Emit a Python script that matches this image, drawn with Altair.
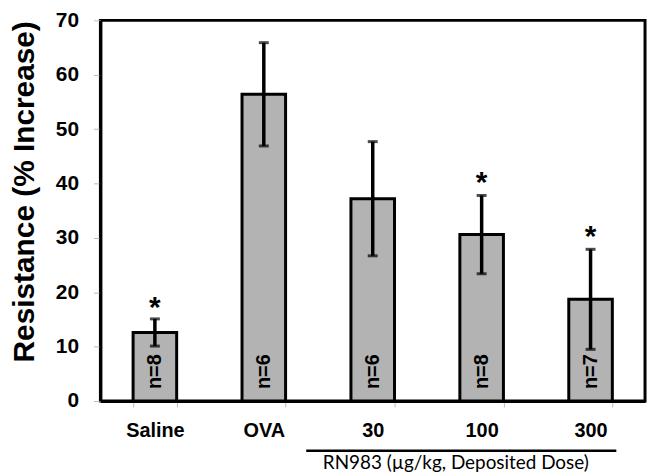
import altair as alt
import pandas as pd

groups = ["Saline", "OVA", "30", "100", "300"]
means = [12.6, 56.4, 37.2, 30.6, 18.7]
errs = [2.5, 9.5, 10.5, 7.2, 9.2]
n_labels = ["n=8", "n=6", "n=6", "n=8", "n=7"]
star_y = [18.1, None, None, 41.1, 31.2]
group_label = "RN983 (µg/kg, Deposited Dose)"
y_title = "Resistance (% Increase)"
y_ticks = [0, 10, 20, 30, 40, 50, 60, 70]

df = pd.DataFrame({
    "group": groups,
    "mean": means,
    "lo": [m - e for m, e in zip(means, errs)],
    "hi": [m + e for m, e in zip(means, errs)],
    "n": n_labels,
    "star": star_y,
})

W, H = 548, 383
xscale = alt.Scale(domain=groups, paddingInner=0.6, paddingOuter=0.3)
yscale = alt.Scale(domain=[0, 70], nice=False)

x = alt.X("group:N", scale=xscale, sort=groups, title=None,
          axis=alt.Axis(labelAngle=0, labelFont="Liberation Sans", labelFontWeight="bold",
                        labelFontSize=20, labelColor="black", labelPadding=14,
                        tickBand="extent", tickColor="#bbbbbb", tickSize=6, tickWidth=1,
                        domainColor="black", domainWidth=3, labelBaseline="top"))
y = alt.Y("mean:Q", scale=yscale, title=y_title,
          axis=alt.Axis(values=y_ticks, grid=False, labelFont="Liberation Sans",
                        labelFontWeight="bold", labelFontSize=21, labelColor="black",
                        labelPadding=15, tickColor="#bbbbbb", tickSize=7, tickWidth=1,
                        domainColor="black", domainWidth=3,
                        titleFont="Liberation Sans", titleFontWeight="bold", titleFontSize=30,
                        titleColor="black", titleX=-76, titleY=172, titleAngle=270,
                        titleAlign="center", titleBaseline="middle"))

base = alt.Chart(df)

bars = base.mark_bar(color="#b3b3b3", stroke="black", strokeWidth=3).encode(x=x, y=y)

rule = base.mark_rule(color="black", strokeWidth=3.5).encode(
    x=alt.X("group:N", scale=xscale, sort=groups),
    y=alt.Y("lo:Q", scale=yscale), y2="hi:Q")

cap_lo = base.mark_tick(color="black", size=10, thickness=3).encode(
    x=alt.X("group:N", scale=xscale, sort=groups), y=alt.Y("lo:Q", scale=yscale))
cap_hi = base.mark_tick(color="black", size=10, thickness=3).encode(
    x=alt.X("group:N", scale=xscale, sort=groups), y=alt.Y("hi:Q", scale=yscale))

nlab = base.mark_text(angle=270, align="left", baseline="middle", font="Liberation Sans",
                      fontWeight="bold", fontSize=20, color="black").encode(
    x=alt.X("group:N", scale=xscale, sort=groups),
    y=alt.YDatum(2.2),
    text="n:N")

stars = base.transform_filter("isValid(datum.star)").mark_text(
    font="Liberation Sans", fontWeight="bold", fontSize=30, baseline="middle",
    dy=6, color="black").encode(
    x=alt.X("group:N", scale=xscale, sort=groups),
    y=alt.Y("star:Q", scale=yscale),
    text=alt.value("*"))

grp_df = pd.DataFrame({"start": [groups[2]], "end": [groups[4]], "mid": [groups[3]], "label": [group_label]})
grp = alt.Chart(grp_df)
grp_rule = grp.mark_rule(color="black", strokeWidth=2.5, xOffset=-45, x2Offset=4).encode(
    x=alt.X("start:N", scale=xscale, sort=groups, bandPosition=0),
    x2=alt.X2("end:N", bandPosition=1),
    y=alt.value(H + 50))
grp_text = grp.mark_text(font="Lato", fontSize=19, color="black", baseline="middle", dx=-26).encode(
    x=alt.X("mid:N", scale=xscale, sort=groups),
    y=alt.value(H + 62),
    text="label:N")

chart = alt.layer(bars, rule, cap_lo, cap_hi, nlab, stars, grp_rule, grp_text).properties(
    width=W, height=H,
    autosize=alt.AutoSizeParams(type="none"),
    padding={"left": 93, "top": 11, "right": 4, "bottom": 72},
    background="white",
).configure_view(stroke="black", strokeWidth=3)

chart.save("out.html", embed_options={"renderer": "svg", "actions": False})
